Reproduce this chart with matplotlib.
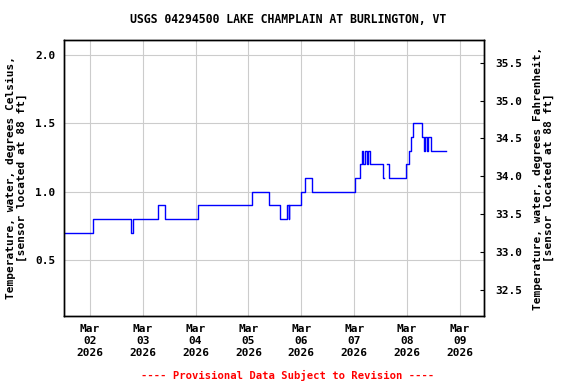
import numpy as np
import matplotlib.pyplot as plt
import matplotlib.dates as mdates
from datetime import datetime, timedelta

# hours after Mar 01 2026 00:00 where a new value starts (step-post), and the value
hours = [12.2, 25.5, 42.6, 43.5, 54.85, 58.2, 73.1, 97.6, 105.5, 110.3, 113.7,
         114.3, 114.6, 119.7, 121.7, 124.7, 144.4, 146.8, 147.5, 148.2, 149.0,
         149.9, 150.4, 151.0, 151.6, 157.1, 157.4, 159.1, 159.7, 167.7,
         168.7, 169.6, 170.7, 174.8, 175.5, 176.0, 177.0, 177.7, 178.7, 185.8]
temp_c = [0.7, 0.8, 0.7, 0.8, 0.9, 0.8, 0.9, 1.0, 0.9, 0.8, 0.9,
          0.8, 0.9, 1.0, 1.1, 1.0, 1.1, 1.2, 1.3, 1.2, 1.3,
          1.2, 1.3, 1.2, 1.2, 1.1, np.nan, 1.2, 1.1, 1.2,
          1.3, 1.4, 1.5, 1.4, 1.3, 1.4, 1.3, 1.4, 1.3, 1.3]

day_ticks = [datetime(2026, 3, d) for d in range(2, 10)]
left_ticks = [0.5, 1.0, 1.5, 2.0]
right_ticks = [32.5, 33.0, 33.5, 34.0, 34.5, 35.0, 35.5]

t0 = datetime(2026, 3, 1)
times = [t0 + timedelta(hours=h) for h in hours]

font = {'family': 'DejaVu Sans Mono', 'weight': 'bold', 'size': 8}

fig = plt.figure(figsize=(5.76, 3.84), dpi=100)
ax = fig.add_axes([0.111, 0.177, 0.729, 0.719])
ax.plot(times, temp_c, color='blue', lw=1.0, drawstyle='steps-post')

ax.set_xlim(datetime(2026, 3, 1, 12, 15), datetime(2026, 3, 9, 10, 50))
ax.set_ylim(0.09, 2.11)
ax.set_xticks(day_ticks)
ax.set_xticklabels([d.strftime('%b\n%d\n%Y') for d in day_ticks], fontdict=font,
                   linespacing=1.2)
ax.set_yticks(left_ticks)
ax.set_yticklabels(['%.1f' % v for v in left_ticks], fontdict=font)
ax.tick_params(axis='both', length=0, pad=6)
ax.grid(True, color='#cccccc', lw=0.8)
ax.set_axisbelow(True)
ax.set_ylabel('Temperature, water, degrees Celsius,\n[sensor located at 88 ft]',
              fontdict=font, linespacing=1.1, labelpad=6)

ax2 = ax.twinx()
ax2.set_ylim(0.09 * 1.8 + 32, 2.11 * 1.8 + 32)
ax2.set_yticks(right_ticks)
ax2.set_yticklabels(['%.1f' % v for v in right_ticks], fontdict=font)
ax2.tick_params(axis='y', direction='in', length=3, pad=8)
ax2.set_ylabel('Temperature, water, degrees Fahrenheit,\n[sensor located at 88 ft]',
               fontdict=font, linespacing=1.1, labelpad=8)

for a in (ax, ax2):
    for s in a.spines.values():
        s.set_color('black')
        s.set_linewidth(1.0)

fig.text(0.5, 0.948, 'USGS 04294500 LAKE CHAMPLAIN AT BURLINGTON, VT',
         ha='center', va='center', family='DejaVu Sans Mono', weight='bold',
         size=8.3)
fig.text(0.5, 0.023, '---- Provisional Data Subject to Revision ----',
         ha='center', va='center', color='red', family='DejaVu Sans Mono',
         weight='bold', size=7.6)

fig.savefig('out.png', dpi=100)
